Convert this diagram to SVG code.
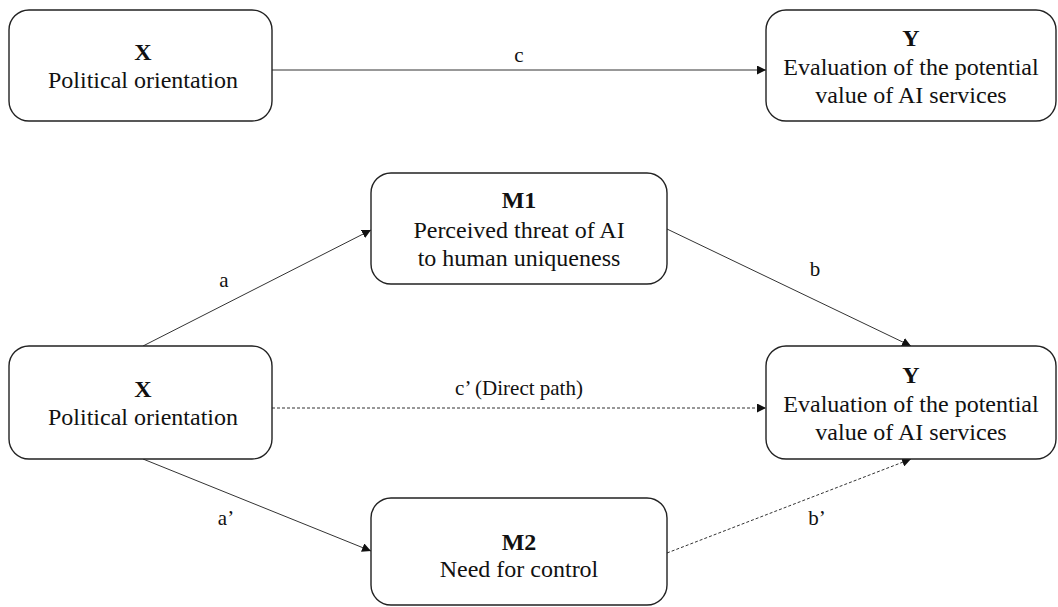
<svg xmlns="http://www.w3.org/2000/svg" width="1058" height="607" viewBox="0 0 1058 607">
<defs>
<style>
.box{fill:#fff;stroke:#222;stroke-width:1.4}
.t{font-family:"Liberation Serif","Times New Roman",serif;font-size:24px;fill:#111;text-anchor:middle}
.b{font-weight:bold}
.l{font-family:"Liberation Serif","Times New Roman",serif;font-size:21px;fill:#111;text-anchor:middle}
.e{stroke:#333;stroke-width:1;fill:none}
.d{stroke-dasharray:3 2}
</style>
<marker id="ah" viewBox="0 0 10 10" refX="10" refY="5" markerWidth="9" markerHeight="9" markerUnits="userSpaceOnUse" orient="auto">
<path d="M0,0 L10,5 L0,10 z" fill="#111"/>
</marker>
</defs>
<rect width="1058" height="607" fill="#fff"/>
<g id="connectors">
<line class="e" x1="272" y1="70" x2="766" y2="70" marker-end="url(#ah)"/>
<line class="e" x1="143" y1="346" x2="371" y2="230" marker-end="url(#ah)"/>
<line class="e" x1="667" y1="229" x2="911" y2="346" marker-end="url(#ah)"/>
<line class="e d" x1="272" y1="408" x2="766" y2="408" marker-end="url(#ah)"/>
<line class="e" x1="143" y1="459" x2="371" y2="551" marker-end="url(#ah)"/>
<line class="e d" x1="667" y1="553" x2="911" y2="459" marker-end="url(#ah)"/>
<text class="l" x="519" y="62">c</text>
<text class="l" x="224" y="287">a</text>
<text class="l" x="815" y="276">b</text>
<text class="l" x="519" y="395">c’ (Direct path)</text>
<text class="l" x="226" y="525">a’</text>
<text class="l" x="817" y="525">b’</text>
</g>
<g id="X1">
<rect class="box" x="9" y="10" width="263" height="111" rx="20"/>
<text class="t b" x="143" y="60">X</text>
<text class="t" x="143" y="88">Political orientation</text>
</g>
<g id="Y1">
<rect class="box" x="766" y="10" width="290" height="111" rx="20"/>
<text class="t b" x="911" y="46">Y</text>
<text class="t" x="911" y="75">Evaluation of the potential</text>
<text class="t" x="911" y="103">value of AI services</text>
</g>
<g id="M1">
<rect class="box" x="371" y="173" width="296" height="111" rx="20"/>
<text class="t b" x="519" y="208">M1</text>
<text class="t" x="519" y="238">Perceived threat of AI</text>
<text class="t" x="519" y="266">to human uniqueness</text>
</g>
<g id="X2">
<rect class="box" x="9" y="346" width="263" height="113" rx="20"/>
<text class="t b" x="143" y="397">X</text>
<text class="t" x="143" y="425">Political orientation</text>
</g>
<g id="Y2">
<rect class="box" x="766" y="346" width="290" height="113" rx="20"/>
<text class="t b" x="911" y="383">Y</text>
<text class="t" x="911" y="412">Evaluation of the potential</text>
<text class="t" x="911" y="440">value of AI services</text>
</g>
<g id="M2">
<rect class="box" x="371" y="498" width="296" height="107" rx="20"/>
<text class="t b" x="519" y="550">M2</text>
<text class="t" x="519" y="577">Need for control</text>
</g>
</svg>
